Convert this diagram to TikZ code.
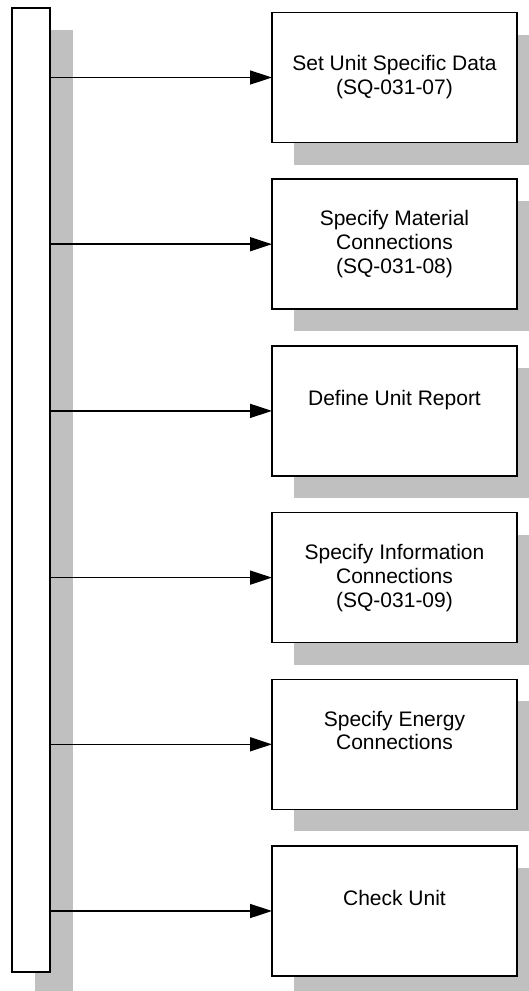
\documentclass[tikz,border=0pt]{standalone}
\usepackage{fontspec}
\setmainfont{Liberation Sans}
\usetikzlibrary{arrows.meta,shadows}
\definecolor{shadowgray}{RGB}{192,192,192}
\begin{document}
\begin{tikzpicture}[x=1pt,y=-1pt,
  boxshadow/.style={general shadow={fill=shadowgray,draw=none,shadow xshift=22pt,shadow yshift=-22pt}},
  stepbox/.style={draw=black,line width=1.6pt,fill=white,rectangle,
    minimum width=245pt,minimum height=130pt,inner sep=0pt,outer sep=0pt,
    anchor=north west,boxshadow},
  busbar/.style={draw=black,line width=1.6pt,fill=white,rectangle,
    minimum width=38pt,minimum height=964pt,inner sep=0pt,outer sep=0pt,
    anchor=north west,
    general shadow={fill=shadowgray,draw=none,shadow xshift=23pt,shadow yshift=-22pt}},
  caption/.style={font=\fontsize{21}{23.8}\selectfont,align=center,anchor=base,inner sep=0pt},
  link/.style={line width=1.6pt,-{Triangle[length=22pt,width=14pt]}}
]
\useasboundingbox (0,0) rectangle (529,991);

% vertical bar on the left
\node[busbar] (bar) at (12,8) {};

% the six step boxes
\node[stepbox] (b1) at (272,12.5) {};
\node[stepbox] (b2) at (272,179.2) {};
\node[stepbox] (b3) at (272,345.9) {};
\node[stepbox] (b4) at (272,512.6) {};
\node[stepbox] (b5) at (272,679.3) {};
\node[stepbox] (b6) at (272,846) {};

% box captions (placed by the baseline of their last line)
\node[caption] (t1) at ([yshift=-82pt]b1.north) {Set Unit Specific Data\\(SQ-031-07)};
\node[caption] (t2) at ([yshift=-94pt]b2.north) {Specify Material\\Connections\\(SQ-031-08)};
\node[caption] (t3) at ([yshift=-60pt]b3.north) {Define Unit Report};
\node[caption] (t4) at ([yshift=-94.5pt]b4.north) {Specify Information\\Connections\\(SQ-031-09)};
\node[caption] (t5) at ([yshift=-70.5pt]b5.north) {Specify Energy\\Connections};
\node[caption] (t6) at ([yshift=-59pt]b6.north) {Check Unit};

% connectors from the bar to each box
\foreach \b in {b1,b2,b3,b4,b5,b6}
  \draw[link] (bar.east |- \b.west) -- (\b.west);
\end{tikzpicture}
\end{document}
